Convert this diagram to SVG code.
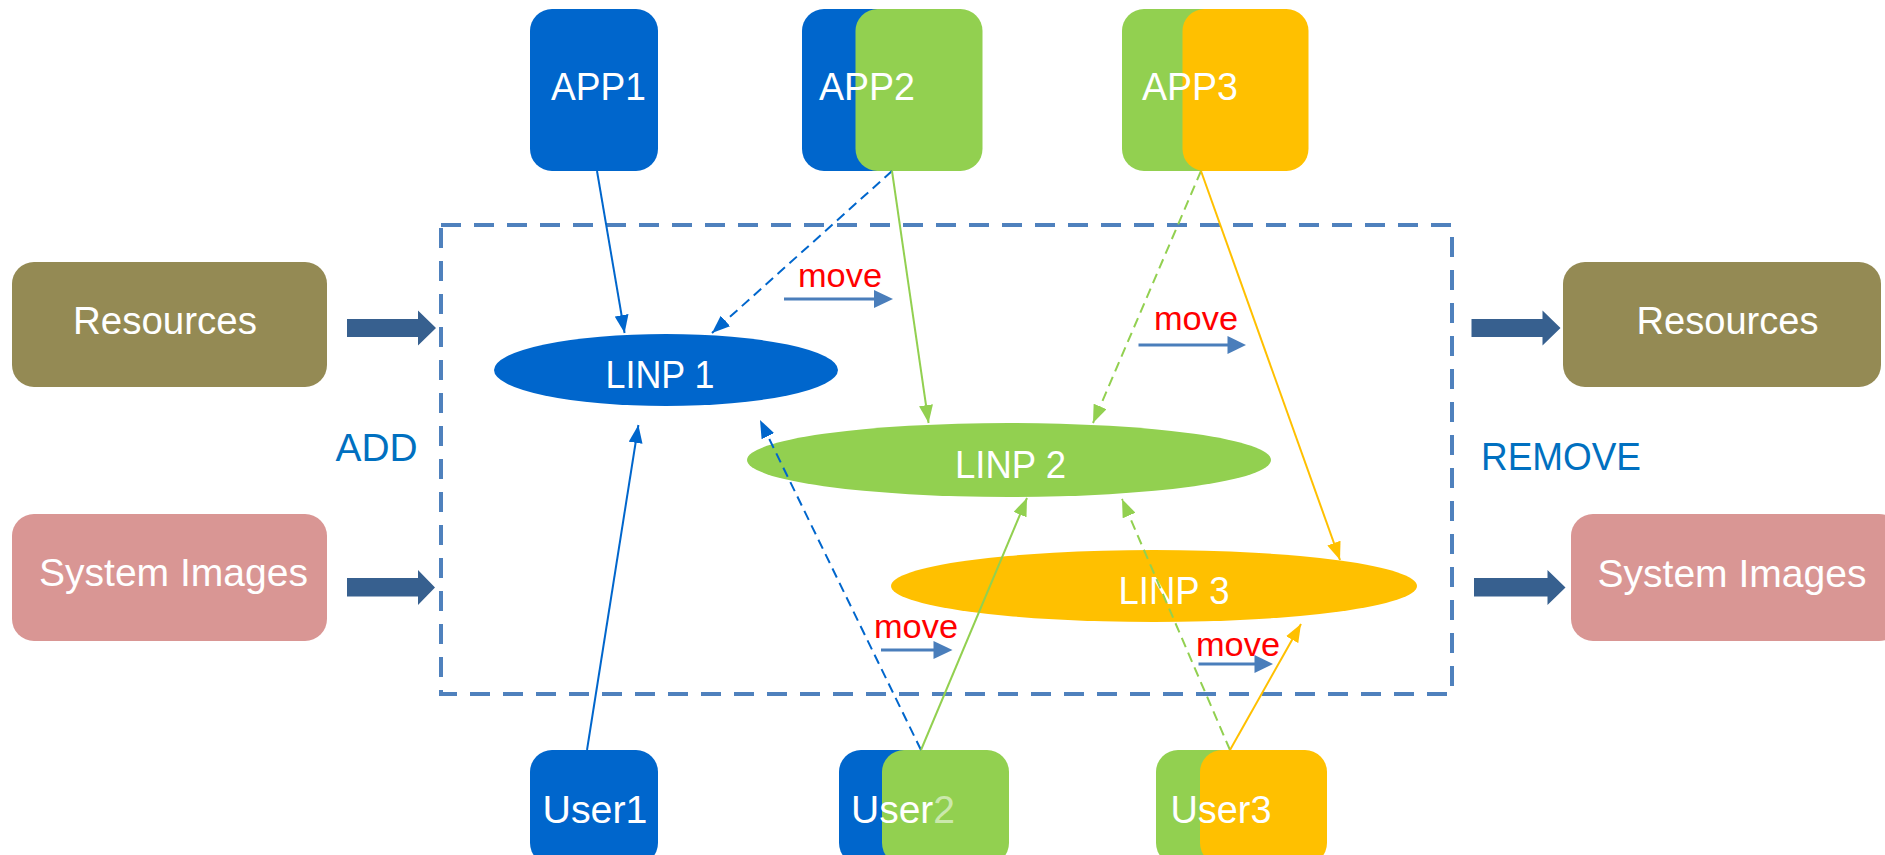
<svg xmlns="http://www.w3.org/2000/svg" width="1885" height="855" viewBox="0 0 1885 855">
  <style>
    .lbl { font-family: "Liberation Sans", Arial, sans-serif; font-size: 39px; fill: #ffffff; text-anchor: middle; }
    .side { font-family: "Liberation Sans", Arial, sans-serif; font-size: 38px; fill: #0070C0; text-anchor: middle; }
    .mv { font-family: "Liberation Sans", Arial, sans-serif; font-size: 33px; fill: #FF0000; text-anchor: middle; }
    .blue { fill: #0066CC; }
    .green { fill: #92D050; }
    .orange { fill: #FFC000; }
    .res { fill: #948A54; }
    .img { fill: #D99694; }
    .frame { fill: none; stroke: #4F81BD; stroke-width: 4; stroke-dasharray: 20 13; }
    .fat { fill: #37608F; }
    .mvline { stroke: #4A7EBB; stroke-width: 3; fill: none; }
    .mvhead { fill: #4A7EBB; }
    .c { fill: none; stroke-width: 2; }
    .dash { stroke-dasharray: 10 6; }
    .cb { stroke: #0066CC; }
    .cg { stroke: #92D050; }
    .co { stroke: #FFC000; }
  </style>
  <defs>
    <marker id="ahBlue" markerUnits="userSpaceOnUse" markerWidth="18" markerHeight="14" refX="18" refY="7" orient="auto">
      <path d="M0,0 L18,7 L0,14 z" fill="#0066CC"/>
    </marker>
    <marker id="ahGreen" markerUnits="userSpaceOnUse" markerWidth="18" markerHeight="14" refX="18" refY="7" orient="auto">
      <path d="M0,0 L18,7 L0,14 z" fill="#92D050"/>
    </marker>
    <marker id="ahOrange" markerUnits="userSpaceOnUse" markerWidth="18" markerHeight="14" refX="18" refY="7" orient="auto">
      <path d="M0,0 L18,7 L0,14 z" fill="#FFC000"/>
    </marker>
  </defs>

  <rect width="1885" height="855" fill="#ffffff"/>

  <!-- dashed boundary of the LINP area -->
  <rect id="linp-area" class="frame" x="441" y="225" width="1011" height="469"/>

  <!-- side labels -->
  <text id="add-label" class="side" x="376.5" y="461" textLength="82" lengthAdjust="spacingAndGlyphs">ADD</text>
  <text id="remove-label" class="side" x="1561" y="470" textLength="160" lengthAdjust="spacingAndGlyphs">REMOVE</text>

  <!-- resource pools -->
  <g id="resources-in">
    <rect class="res" x="12" y="262" width="315" height="125" rx="22"/>
    <text class="lbl" x="165" y="334" textLength="184" lengthAdjust="spacingAndGlyphs">Resources</text>
  </g>
  <g id="images-in">
    <rect class="img" x="12" y="514" width="315" height="127" rx="22"/>
    <text class="lbl" x="173.5" y="586" textLength="269" lengthAdjust="spacingAndGlyphs">System Images</text>
  </g>
  <g id="resources-out">
    <rect class="res" x="1563" y="262" width="318" height="125" rx="22"/>
    <text class="lbl" x="1727.5" y="334" textLength="182" lengthAdjust="spacingAndGlyphs">Resources</text>
  </g>
  <g id="images-out">
    <rect class="img" x="1571" y="514" width="330" height="127" rx="22"/>
    <text class="lbl" x="1732" y="587" textLength="269" lengthAdjust="spacingAndGlyphs">System Images</text>
  </g>

  <!-- add / remove block arrows -->
  <g id="flow-arrows">
    <polygon class="fat" points="347,319 418,319 418,310.5 436,328 418,345.5 418,337 347,337"/>
    <polygon class="fat" points="347,578 418,578 418,570 435,587.5 418,605 418,596.5 347,596.5"/>
    <polygon class="fat" points="1471.5,319 1542.5,319 1542.5,310.5 1560.5,328 1542.5,345.5 1542.5,337 1471.5,337"/>
    <polygon class="fat" points="1474,578 1547.5,578 1547.5,570 1565.5,587.5 1547.5,605 1547.5,596.5 1474,596.5"/>
  </g>

  <!-- applications -->
  <g id="app1">
    <rect class="blue" x="530" y="9" width="128" height="162" rx="22"/>
    <text class="lbl" x="598.5" y="100" textLength="95" lengthAdjust="spacingAndGlyphs">APP1</text>
  </g>
  <g id="app2">
    <rect class="blue" x="802" y="9" width="128" height="162" rx="22"/>
    <rect class="green" x="855.5" y="9" width="127" height="162" rx="22"/>
    <text class="lbl" x="867" y="100" textLength="96" lengthAdjust="spacingAndGlyphs">APP2</text>
  </g>
  <g id="app3">
    <rect class="green" x="1122" y="9" width="128" height="162" rx="22"/>
    <rect class="orange" x="1182.5" y="9" width="126" height="162" rx="22"/>
    <text class="lbl" x="1190" y="100" textLength="96" lengthAdjust="spacingAndGlyphs">APP3</text>
  </g>

  <!-- logical infrastructure partitions -->
  <g id="linp1">
    <ellipse class="blue" cx="666" cy="370" rx="172" ry="36"/>
    <text class="lbl" x="660" y="388" textLength="109" lengthAdjust="spacingAndGlyphs">LINP 1</text>
  </g>
  <g id="linp2">
    <ellipse class="green" cx="1009" cy="460" rx="262" ry="37"/>
    <text class="lbl" x="1010.5" y="478" textLength="111" lengthAdjust="spacingAndGlyphs">LINP 2</text>
  </g>
  <g id="linp3">
    <ellipse class="orange" cx="1154" cy="586" rx="263" ry="36"/>
    <text class="lbl" x="1174" y="604" textLength="111" lengthAdjust="spacingAndGlyphs">LINP 3</text>
  </g>

  <!-- users -->
  <g id="user1">
    <rect class="blue" x="530" y="750" width="128" height="115" rx="22"/>
    <text class="lbl" x="595" y="823" textLength="105" lengthAdjust="spacingAndGlyphs">User1</text>
  </g>
  <g id="user2">
    <rect class="blue" x="839" y="750" width="128" height="115" rx="22"/>
    <rect class="green" x="882" y="750" width="127" height="115" rx="22"/>
    <text class="lbl" x="903" y="823" textLength="104" lengthAdjust="spacingAndGlyphs">User<tspan fill-opacity="0.55">2</tspan></text>
  </g>
  <g id="user3">
    <rect class="green" x="1156" y="750" width="128" height="115" rx="22"/>
    <rect class="orange" x="1200" y="750" width="127" height="115" rx="22"/>
    <text class="lbl" x="1221" y="823" textLength="101" lengthAdjust="spacingAndGlyphs">User3</text>
  </g>

  <!-- move annotations -->
  <g id="move-1">
    <text class="mv" x="840" y="287" textLength="84" lengthAdjust="spacingAndGlyphs">move</text>
    <line class="mvline" x1="784" y1="299" x2="876" y2="299"/>
    <polygon class="mvhead" points="874,290 893,299 874,308"/>
  </g>
  <g id="move-2">
    <text class="mv" x="1196" y="330" textLength="84" lengthAdjust="spacingAndGlyphs">move</text>
    <line class="mvline" x1="1138.5" y1="345" x2="1229" y2="345"/>
    <polygon class="mvhead" points="1227.5,336 1246,345 1227.5,354"/>
  </g>
  <g id="move-3">
    <text class="mv" x="916" y="638" textLength="84" lengthAdjust="spacingAndGlyphs">move</text>
    <line class="mvline" x1="881" y1="650" x2="935" y2="650"/>
    <polygon class="mvhead" points="933.5,641 952.5,650 933.5,659"/>
  </g>
  <g id="move-4">
    <text class="mv" x="1238" y="656" textLength="84" lengthAdjust="spacingAndGlyphs">move</text>
    <line class="mvline" x1="1198.5" y1="664" x2="1256" y2="664"/>
    <polygon class="mvhead" points="1254.5,655 1273,664 1254.5,673"/>
  </g>

  <!-- connectors -->
  <g id="connectors">
    <line class="c cb" x1="597" y1="171" x2="624.6" y2="333" marker-end="url(#ahBlue)"/>
    <line class="c cb dash" x1="892" y1="171" x2="712" y2="333" marker-end="url(#ahBlue)"/>
    <line class="c cg" x1="892" y1="171" x2="928.6" y2="423" marker-end="url(#ahGreen)"/>
    <line class="c cg dash" x1="1201" y1="171" x2="1093" y2="423" marker-end="url(#ahGreen)"/>
    <line class="c co" x1="1201" y1="171" x2="1340" y2="560" marker-end="url(#ahOrange)"/>
    <line class="c cb" x1="587" y1="750" x2="638.4" y2="425" marker-end="url(#ahBlue)"/>
    <line class="c cb dash" x1="921" y1="750" x2="760" y2="420" marker-end="url(#ahBlue)"/>
    <line class="c cg" x1="921" y1="750" x2="1027" y2="498" marker-end="url(#ahGreen)"/>
    <line class="c cg dash" x1="1230" y1="750" x2="1122" y2="499" marker-end="url(#ahGreen)"/>
    <line class="c co" x1="1230" y1="750" x2="1301" y2="624" marker-end="url(#ahOrange)"/>
  </g>
</svg>
